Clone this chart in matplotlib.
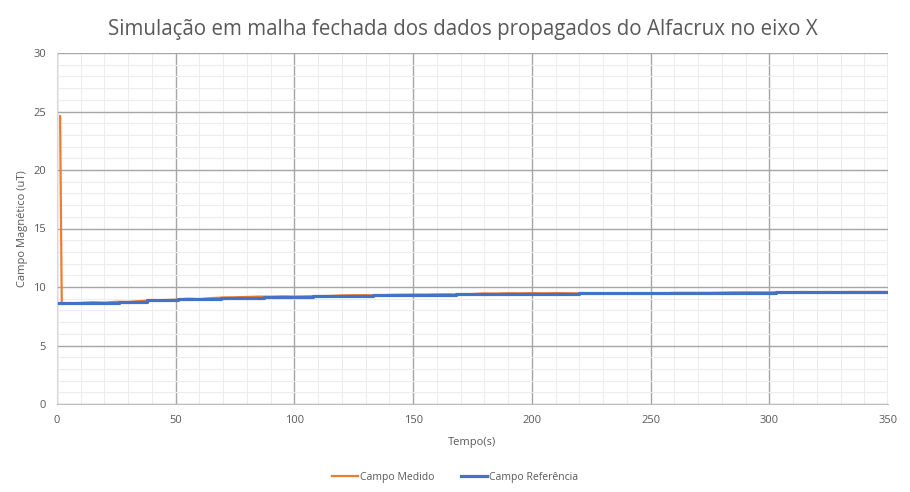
import matplotlib
matplotlib.use("Agg")
import matplotlib.pyplot as plt
from matplotlib.ticker import MultipleLocator

title = "Simulação em malha fechada dos dados propagados do Alfacrux no eixo X"
xlabel = "Tempo(s)"
ylabel = "Campo Magnético (uT)"
label_med = "Campo Medido"
label_ref = "Campo Referência"

# Campo Referência (step levels)
ref_t = [1, 14, 26, 38, 51, 69, 87, 108, 133, 168, 220, 303, 350]
ref_v = [8.6, 8.66, 8.74, 8.86, 8.95, 9.07, 9.17, 9.24, 9.32, 9.4, 9.5, 9.6, 9.6]

# Campo Medido
med_t = [1.3, 2, 5, 10, 15, 20, 25, 30, 35, 40, 45, 50, 55, 60, 65, 70, 75, 80, 85,
         90, 95, 100, 105, 110, 115, 120, 125, 130, 135, 140, 145, 150, 155, 160,
         165, 170, 175, 180, 185, 190, 195, 200, 205, 210, 215, 220, 225, 230, 235,
         240, 245, 250, 255, 260, 265, 270, 275, 280, 285, 290, 295, 300, 305, 310,
         315, 320, 325, 330, 335, 340, 345, 350]
med_v = [24.6, 8.55, 8.6, 8.64, 8.7, 8.66, 8.74, 8.72, 8.8, 8.85, 8.88, 8.92, 9.0,
         8.96, 9.05, 9.1, 9.12, 9.15, 9.18, 9.17, 9.2, 9.18, 9.2, 9.22, 9.24, 9.28,
         9.3, 9.3, 9.28, 9.32, 9.34, 9.35, 9.35, 9.37, 9.38, 9.35, 9.4, 9.45, 9.44,
         9.47, 9.46, 9.48, 9.46, 9.48, 9.47, 9.45, 9.44, 9.46, 9.44, 9.46, 9.44, 9.46,
         9.45, 9.5, 9.5, 9.5, 9.5, 9.52, 9.54, 9.55, 9.54, 9.54, 9.55, 9.56, 9.57,
         9.56, 9.57, 9.56, 9.58, 9.57, 9.58, 9.57]

plt.rcParams['font.family'] = ['Open Sans', 'DejaVu Sans']
txt = '#595959'

fig = plt.figure(figsize=(9.1, 4.92), dpi=100)
ax = fig.add_axes([57/910, 88/492, (888-57)/910, (404-53)/492])

ax.plot(med_t, med_v, color='#ED7D31', lw=1.6, label=label_med, zorder=3)
ax.plot(ref_t, ref_v, color='#4472C4', lw=2.3, drawstyle='steps-post', label=label_ref, zorder=4)

ax.set_xlim(0, 350)
ax.set_ylim(0, 30)
ax.xaxis.set_major_locator(MultipleLocator(50))
ax.xaxis.set_minor_locator(MultipleLocator(10))
ax.yaxis.set_major_locator(MultipleLocator(5))
ax.yaxis.set_minor_locator(MultipleLocator(1))
ax.grid(which='minor', color='#EDEDED', lw=0.8, zorder=0)
ax.grid(which='major', color='#A6A6A6', lw=1.0, zorder=1)
ax.set_axisbelow(True)
for s in ['top', 'right']:
    ax.spines[s].set_visible(False)
ax.spines['left'].set_color('#D9D9D9')
ax.spines['bottom'].set_color('#BFBFBF')
ax.tick_params(which='both', length=0, labelsize=8, colors=txt, pad=8)

ax.set_xlabel(xlabel, fontsize=8, color=txt, labelpad=8)
ax.set_ylabel(ylabel, fontsize=8, color=txt, labelpad=4)
fig.text(463/910, 0.94, title, fontsize=14.8, color=txt, ha='center', va='center')

fig.legend(loc='lower center', bbox_to_anchor=(0.5, 0.0), ncol=2, frameon=False,
           fontsize=7.5, labelcolor=txt, handlelength=2.5, handletextpad=0.2,
           columnspacing=2.5)

fig.savefig('out.png', dpi=100, facecolor='white')
